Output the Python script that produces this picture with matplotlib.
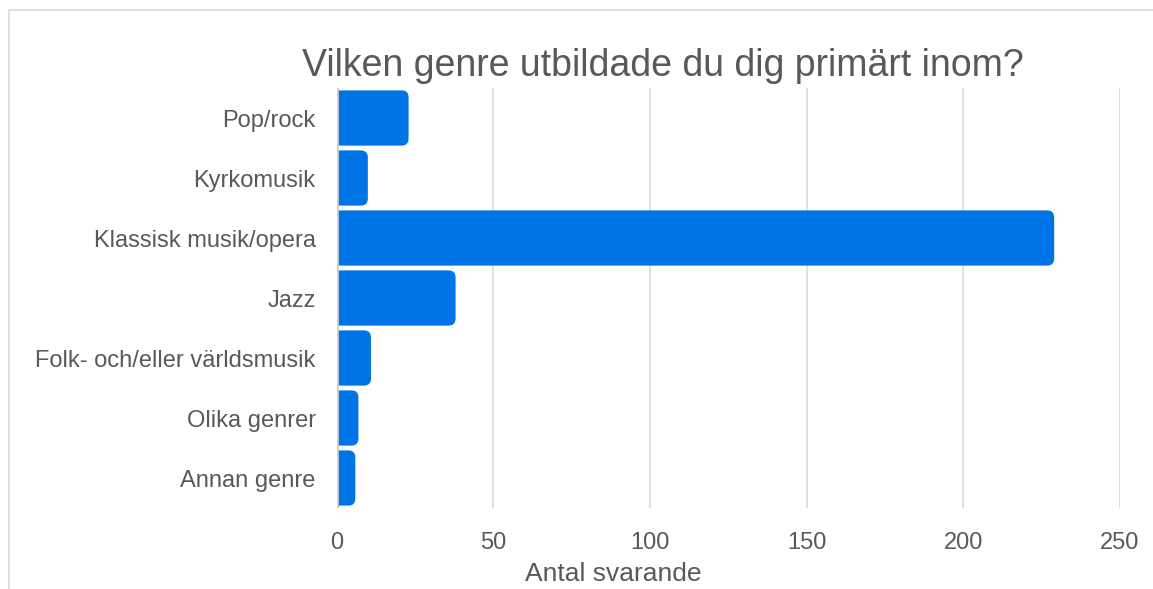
import matplotlib.pyplot as plt
from matplotlib.patches import FancyBboxPatch, Rectangle

# data
genres = ['Pop/rock', 'Kyrkomusik', 'Klassisk musik/opera', 'Jazz',
          'Folk- och/eller världsmusik', 'Olika genrer', 'Annan genre']
counts = [23, 10, 229, 38, 11, 7, 6]
xticks = [0, 50, 100, 150, 200, 250]

blue = '#0073e6'
grey_txt = '#595959'

plt.rcParams['font.family'] = ['Liberation Sans', 'DejaVu Sans']

fig = plt.figure(figsize=(11.53, 5.89), dpi=100)
ax = fig.add_axes([336.5 / 1153, 1 - 508 / 589, (1120 - 336.5) / 1153, 420 / 589])

# outer frame (only top and left visible)
fig.patches.append(Rectangle((9 / 1153, -0.1), 1.2, 1 - 10 / 589 + 0.1,
                             transform=fig.transFigure, fill=False,
                             edgecolor='#d9d9d9', linewidth=1.2))

ypos = list(range(len(genres)))
bars = ax.barh(ypos, counts, height=0.92, color=blue)

# rounded right corners: redraw each bar as fancy box, left end hidden by clip
px_x = (1120 - 336.5) / 250.0
px_y = 60.0
r = 7.0
for b in bars:
    x0, y0, w, h = b.get_x(), b.get_y(), b.get_width(), b.get_height()
    b.set_visible(False)
    pad = r / px_x
    p = FancyBboxPatch((x0 - pad, y0), w + pad, h,
                       boxstyle='round,pad=0,rounding_size=%f' % (r / px_x),
                       mutation_aspect=px_x / px_y,
                       facecolor=blue, edgecolor='none', zorder=3)
    ax.add_patch(p)

ax.set_xlim(0, 250)
ax.set_ylim(len(genres) - 0.5, -0.5)
ax.set_xticks(xticks)
ax.set_yticks(ypos)
ax.set_yticklabels(genres)
ax.tick_params(axis='both', length=0, labelsize=17, labelcolor=grey_txt)
ax.tick_params(axis='y', pad=15)
ax.tick_params(axis='x', pad=17)
for s in ax.spines.values():
    s.set_visible(False)
ax.grid(axis='x', color='#dcdcdc', linewidth=1.3, zorder=0)
ax.set_axisbelow(True)
ax.axvline(0, color='#cccccc', linewidth=2, zorder=4)

fig.text(663 / 1153, 1 - 66 / 589, 'Vilken genre utbildade du dig primärt inom?',
         ha='center', va='center', fontsize=27, color=grey_txt)
fig.text(613 / 1153, 1 - 574 / 589, 'Antal svarande',
         ha='center', va='center', fontsize=19, color=grey_txt)

fig.savefig('out.png', dpi=100)
